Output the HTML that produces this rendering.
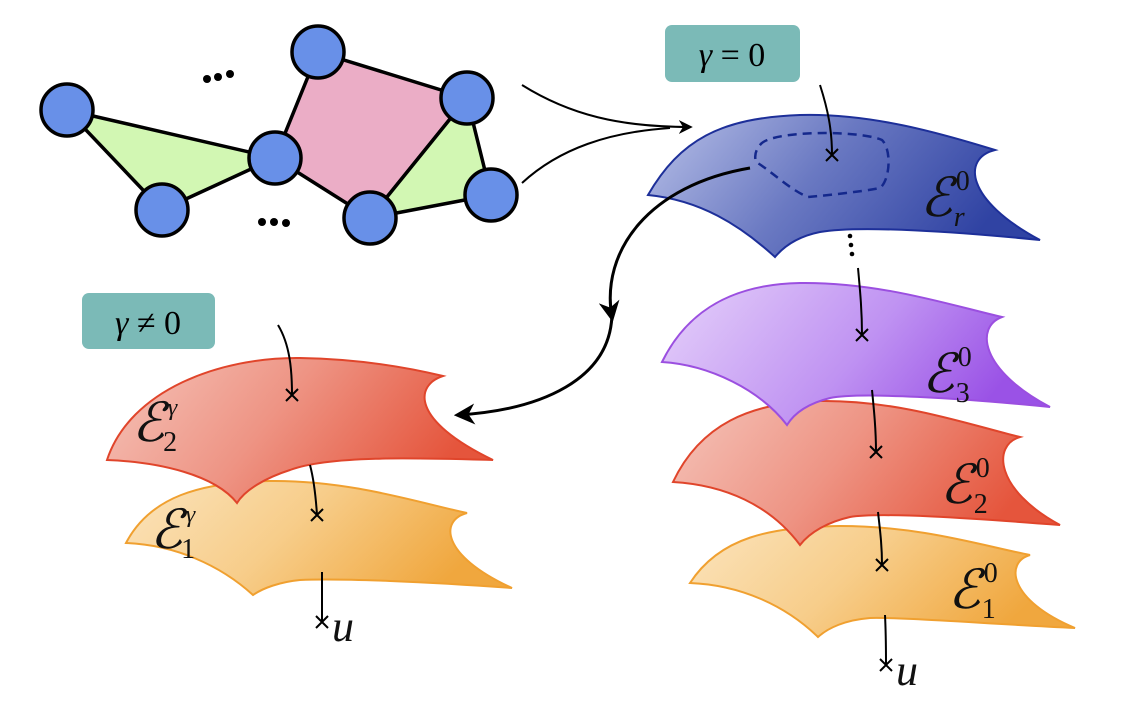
<!DOCTYPE html>
<html><head><meta charset="utf-8"><style>
html,body{margin:0;padding:0;background:#fff;}
svg{display:block;}
.m{font-family:"Liberation Serif",serif;font-style:italic;}
</style></head><body>
<svg width="1125" height="719" viewBox="0 0 1125 719" xmlns="http://www.w3.org/2000/svg">
<defs>
<linearGradient id="gb" x1="0" y1="0" x2="1" y2="0.3"><stop offset="0" stop-color="#b9c1e8"/><stop offset="0.5" stop-color="#6a79c2"/><stop offset="1" stop-color="#3043a3"/></linearGradient>
<linearGradient id="gp" x1="0" y1="0" x2="1" y2="0.3"><stop offset="0" stop-color="#e6d2fa"/><stop offset="0.6" stop-color="#bf92f2"/><stop offset="1" stop-color="#9a52e6"/></linearGradient>
<linearGradient id="gr" x1="0" y1="0" x2="1" y2="0.3"><stop offset="0" stop-color="#f5c4ba"/><stop offset="0.5" stop-color="#ee9484"/><stop offset="1" stop-color="#e5553c"/></linearGradient>
<linearGradient id="go" x1="0" y1="0" x2="1" y2="0.3"><stop offset="0" stop-color="#fbe4bd"/><stop offset="0.5" stop-color="#f7cd8a"/><stop offset="1" stop-color="#f0a73e"/></linearGradient>
<marker id="ah" viewBox="0 0 10 10" refX="8" refY="5" markerWidth="7" markerHeight="7" orient="auto"><path d="M0,0 L10,5 L0,10 L3,5 Z" fill="#000"/></marker>
</defs>

<polygon points="67,110 162,210 275,158" fill="#d2f7b3" stroke="#000" stroke-width="3.5" stroke-linejoin="round"/>
<polygon points="275,158 318,52 467,98 370,218" fill="#ebadc6" stroke="#000" stroke-width="3.5" stroke-linejoin="round"/>
<polygon points="467,98 491,195 370,218" fill="#d2f7b3" stroke="#000" stroke-width="3.5" stroke-linejoin="round"/>
<g fill="#6890e8" stroke="#000" stroke-width="3.5">
<circle cx="67" cy="110" r="26"/><circle cx="162" cy="210" r="26"/><circle cx="275" cy="158" r="26"/>
<circle cx="318" cy="52" r="26"/><circle cx="467" cy="98" r="26"/><circle cx="491" cy="195" r="26"/><circle cx="370" cy="218" r="26"/>
</g>
<g fill="#000"><circle cx="207" cy="79" r="4"/><circle cx="218" cy="77" r="4"/><circle cx="230" cy="74" r="4"/>
<circle cx="262" cy="222" r="4"/><circle cx="274" cy="222" r="4"/><circle cx="286" cy="223" r="4"/></g>

<path d="M522,85 C570,115 620,127 690,127" fill="none" stroke="#000" stroke-width="2" marker-end="url(#ah)"/>
<path d="M522,183 C560,148 610,132 670,128" fill="none" stroke="#000" stroke-width="2"/>

<rect x="665" y="25" width="135" height="57" rx="7" fill="#7bbab7"/>
<text x="732" y="66" text-anchor="middle" class="m" font-size="34">γ <tspan font-style="normal">= 0</tspan></text>
<rect x="82" y="293" width="133" height="56" rx="7" fill="#7bbab7"/>
<text x="148" y="334" text-anchor="middle" class="m" font-size="34">γ <tspan font-style="normal">≠ 0</tspan></text>

<path d="M690,583 C720,537 770,527 840,526 C920,526 980,545 1030,555 C1005,562 1008,600 1075,628 C990,624 900,617 870,618 C845,620 828,628 818,637 C785,605 740,585 690,583 Z" fill="url(#go)" stroke="#f0a030" stroke-width="2"/>
<path d="M673,482 C700,425 750,402 820,401 C900,400 970,425 1020,437 C992,445 995,490 1060,525 C970,518 880,512 850,517 C828,522 810,532 800,545 C770,505 725,485 673,482 Z" fill="url(#gr)" stroke="#e0452b" stroke-width="2"/>
<path d="M662,362 C690,305 740,284 800,283 C880,282 950,305 1002,317 C975,327 980,370 1050,407 C960,398 860,392 830,398 C810,403 795,412 787,425 C760,390 710,365 662,362 Z" fill="url(#gp)" stroke="#9b4fe0" stroke-width="2"/>
<path d="M648,195 C680,140 720,118 800,115 C870,113 940,133 995,150 C962,158 965,200 1040,240 C960,232 860,225 820,232 C800,236 785,245 775,257 C740,225 700,200 648,195 Z" fill="url(#gb)" stroke="#1d2f99" stroke-width="2"/>
<path d="M760,145 C770,130 860,130 882,140 C892,150 890,180 880,188 C860,192 820,196 808,197 C790,190 770,170 756,162 C754,155 756,150 760,145 Z" fill="none" stroke="#14288c" stroke-width="2.5" stroke-dasharray="9,6"/>

<g fill="none" stroke="#000" stroke-width="2">
<path d="M820,85 C828,110 832,130 832,155"/><path d="M826,149 l12,12 M838,149 l-12,12"/>
<path d="M858,268 C860,290 862,310 862,335"/><path d="M856,329 l12,12 M868,329 l-12,12"/>
<path d="M872,390 C874,410 876,430 876,452"/><path d="M870,446 l12,12 M882,446 l-12,12"/>
<path d="M878,512 C880,530 882,545 882,565"/><path d="M876,559 l12,12 M888,559 l-12,12"/>
<path d="M885,615 C886,635 886,650 886,665"/><path d="M880,659 l12,12 M892,659 l-12,12"/>
</g>
<g fill="#000"><circle cx="850" cy="236" r="2.3"/><circle cx="851" cy="245" r="2.3"/><circle cx="852" cy="254" r="2.3"/></g>

<path d="M750,168 C650,185 600,250 612,318" fill="none" stroke="#000" stroke-width="3" marker-end="url(#ah)"/>
<path d="M612,312 C612,380 540,410 458,415" fill="none" stroke="#000" stroke-width="3" marker-end="url(#ah)"/>

<path d="M126,543 C150,497 200,482 270,481 C350,480 420,503 467,513 C440,520 440,555 512,588 C430,582 340,578 300,580 C280,582 263,588 253,595 C220,565 175,545 126,543 Z" fill="url(#go)" stroke="#f0a030" stroke-width="2"/>
<path d="M107,460 C130,390 220,357 300,358 C360,359 410,368 443,376 C415,385 410,420 493,460 C420,458 330,455 290,470 C265,478 245,490 237,503 C215,475 160,462 107,460 Z" fill="url(#gr)" stroke="#e0452b" stroke-width="2"/>
<g fill="none" stroke="#000" stroke-width="2">
<path d="M278,325 C290,345 292,370 292,395"/><path d="M286,389 l12,12 M298,389 l-12,12"/>
<path d="M310,465 C314,480 316,500 317,515"/><path d="M311,509 l12,12 M323,509 l-12,12"/>
<path d="M322,572 C322,590 322,605 322,622"/><path d="M316,616 l12,12 M328,616 l-12,12"/>
</g>

<g class="m" fill="#111">
<text x="920" y="216" font-size="54">ℰ<tspan font-size="28" dx="3" dy="-26" font-style="normal">0</tspan><tspan font-size="28" dx="-16" dy="36">r</tspan></text>
<text x="922" y="392" font-size="54">ℰ<tspan font-size="28" dx="3" dy="-26" font-style="normal">0</tspan><tspan font-size="28" dx="-16" dy="36" font-style="normal">3</tspan></text>
<text x="940" y="503" font-size="54">ℰ<tspan font-size="28" dx="3" dy="-26" font-style="normal">0</tspan><tspan font-size="28" dx="-16" dy="36" font-style="normal">2</tspan></text>
<text x="948" y="608" font-size="54">ℰ<tspan font-size="28" dx="3" dy="-26" font-style="normal">0</tspan><tspan font-size="28" dx="-16" dy="36" font-style="normal">1</tspan></text>
<text x="132" y="441" font-size="54">ℰ<tspan font-size="24" dx="3" dy="-26">γ</tspan><tspan font-size="28" dx="-14" dy="36" font-style="normal">2</tspan></text>
<text x="150" y="548" font-size="54">ℰ<tspan font-size="24" dx="3" dy="-26">γ</tspan><tspan font-size="28" dx="-14" dy="36" font-style="normal">1</tspan></text>
<text x="332" y="641" font-size="44">u</text>
<text x="896" y="685" font-size="44">u</text>
</g>
</svg>
</body></html>
